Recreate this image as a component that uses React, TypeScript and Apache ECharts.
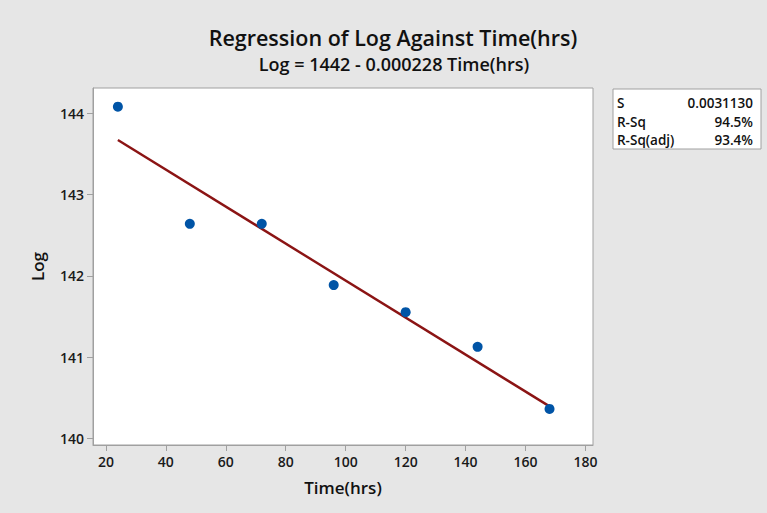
import React, { useEffect, useRef } from "react";
import * as echarts from "echarts";

const timeHrs = [24, 48, 72, 96, 120, 144, 168];
const logValues = [144.08, 142.64, 142.64, 141.886, 141.553, 141.127, 140.364];
const fitX = [24, 168];
const fitY = [143.67, 140.395];
const xTicks = [20, 40, 60, 80, 100, 120, 140, 160, 180];
const yTicks = [140, 141, 142, 143, 144];
const statLabels = ["S", "R-Sq", "R-Sq(adj)"];
const statValues = ["0.0031130", "94.5%", "93.4%"];

const FONT = "'Open Sans', 'Noto Sans', sans-serif";

export default function App() {
  const ref = useRef<HTMLDivElement>(null);
  useEffect(() => {
    if (!ref.current) return;
    const chart = echarts.init(ref.current, null, { renderer: "svg" });
    const rowY = [103, 121.5, 139.5];
    const statTexts: any[] = [];
    statLabels.forEach((l, i) => {
      statTexts.push({
        type: "text",
        x: 617,
        y: rowY[i],
        style: { text: l, font: `600 13.5px ${FONT}`, fill: "#111", verticalAlign: "middle" },
      });
      statTexts.push({
        type: "text",
        x: 753,
        y: rowY[i],
        style: {
          text: statValues[i],
          font: `600 13.5px ${FONT}`,
          fill: "#111",
          align: "right",
          verticalAlign: "middle",
        },
      });
    });
    chart.setOption({
      animation: false,
      backgroundColor: "#e6e6e6",
      textStyle: { fontFamily: FONT },
      title: [
        {
          text: "Regression of Log Against Time(hrs)",
          left: 393,
          top: 24,
          padding: 0,
          textAlign: "center",
          textStyle: { fontSize: 21.5, fontWeight: 600, color: "#111", fontFamily: FONT, lineHeight: 26 },
        },
        {
          text: "Log = 1442 - 0.000228 Time(hrs)",
          left: 394,
          top: 53,
          padding: 0,
          textAlign: "center",
          textStyle: { fontSize: 18, fontWeight: 600, color: "#111", fontFamily: FONT, lineHeight: 22 },
        },
      ],
      grid: {
        left: 93,
        top: 88,
        right: 174,
        bottom: 68,
        show: true,
        backgroundColor: "#ffffff",
        borderColor: "#a0a0a0",
        borderWidth: 1,
      },
      xAxis: {
        type: "value",
        min: 15.7,
        max: 182.5,
        name: "Time(hrs)",
        nameLocation: "middle",
        nameGap: 34,
        nameTextStyle: { fontSize: 17, fontWeight: 600, color: "#111", fontFamily: FONT },
        axisLine: { show: true, lineStyle: { color: "#a0a0a0" } },
        axisTick: { show: true, length: 6, lineStyle: { color: "#a0a0a0" }, customValues: xTicks },
        axisLabel: {
          customValues: xTicks,
          fontSize: 14,
          fontWeight: 600,
          color: "#1a1a1a",
          margin: 9,
          formatter: (v: number) => String(v),
        },
        splitLine: { show: false },
      },
      yAxis: {
        type: "value",
        min: 139.92,
        max: 144.31,
        name: "Log",
        nameLocation: "middle",
        nameGap: 47,
        nameRotate: 90,
        nameTextStyle: { fontSize: 17, fontWeight: 600, color: "#111", fontFamily: FONT },
        axisLine: { show: true, lineStyle: { color: "#a0a0a0" } },
        axisTick: { show: true, length: 6, lineStyle: { color: "#a0a0a0" }, customValues: yTicks },
        axisLabel: {
          customValues: yTicks,
          fontSize: 14,
          fontWeight: 600,
          color: "#1a1a1a",
          margin: 9,
          formatter: (v: number) => String(Math.round(v)),
        },
        splitLine: { show: false },
      },
      series: [
        {
          type: "line",
          data: fitX.map((x, i) => [x, fitY[i]]),
          symbol: "none",
          lineStyle: { color: "#8b1414", width: 2.4 },
          z: 2,
        },
        {
          type: "scatter",
          data: timeHrs.map((x, i) => [x, logValues[i]]),
          symbolSize: 10,
          itemStyle: { color: "#0054a6", opacity: 1 },
          z: 3,
        },
      ],
      graphic: [
        {
          type: "rect",
          x: 613,
          y: 89,
          shape: { width: 148, height: 60 },
          style: { fill: "#ffffff", stroke: "#a0a0a0", lineWidth: 1 },
        },
        ...statTexts,
      ],
    });
    return () => chart.dispose();
  }, []);
  return (
    <div
      ref={ref}
      style={{ position: "fixed", left: 0, top: 0, width: 767, height: 513 }}
    />
  );
}
